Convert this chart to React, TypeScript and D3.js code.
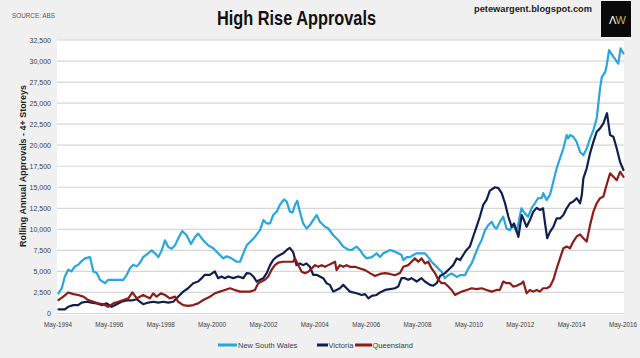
import React from "react";
import * as d3 from "d3";

// [decimal year, rolling annual approvals]
const nsw: [number, number][] = [
  [1994.35,2400],[1994.48,3000],[1994.6,4400],[1994.73,5200],[1994.86,5000],[1994.99,5600],[1995.12,5800],[1995.25,6200],[1995.38,6550],[1995.58,6700],[1995.71,5000],[1995.84,4800],[1995.97,4000],[1996.16,3600],[1996.29,4000],[1996.49,4000],[1996.68,4000],[1996.88,4000],[1997.01,4600],[1997.14,5400],[1997.26,5800],[1997.4,5600],[1997.52,6000],[1997.65,6700],[1997.78,7000],[1997.98,7500],[1998.11,7150],[1998.24,6700],[1998.37,7500],[1998.5,8700],[1998.63,7900],[1998.76,7700],[1998.89,8100],[1999.01,8900],[1999.17,9800],[1999.34,9300],[1999.51,8250],[1999.66,9050],[1999.79,9500],[1999.99,8700],[2000.18,8100],[2000.38,7750],[2000.57,7150],[2000.77,6550],[2000.9,6800],[2001.09,6550],[2001.29,6150],[2001.42,6150],[2001.55,7150],[2001.68,8100],[2001.81,8500],[2002.0,9100],[2002.2,9900],[2002.33,11100],[2002.46,10700],[2002.59,10700],[2002.71,11700],[2002.85,12100],[2002.97,12900],[2003.13,13550],[2003.24,13300],[2003.36,12100],[2003.47,12000],[2003.56,12900],[2003.65,13400],[2003.75,12100],[2003.88,10700],[2004.01,10100],[2004.14,10500],[2004.27,11100],[2004.4,11700],[2004.53,10900],[2004.73,10300],[2004.86,10100],[2005.05,9300],[2005.25,8700],[2005.44,7950],[2005.63,7600],[2005.77,7550],[2005.96,7950],[2006.09,7550],[2006.22,6950],[2006.35,6550],[2006.55,6700],[2006.74,7150],[2006.87,6700],[2007.0,7150],[2007.13,7350],[2007.26,7550],[2007.45,7350],[2007.58,7150],[2007.71,6950],[2007.78,6350],[2007.91,6700],[2008.04,6700],[2008.17,6950],[2008.3,7150],[2008.49,7150],[2008.62,7150],[2008.75,6700],[2008.88,6150],[2009.01,5750],[2009.14,5350],[2009.27,4950],[2009.4,4200],[2009.53,4550],[2009.66,4750],[2009.86,4350],[2009.99,4550],[2010.18,4550],[2010.31,5350],[2010.44,5950],[2010.57,6950],[2010.7,7950],[2010.83,8750],[2010.96,9900],[2011.09,10500],[2011.22,10900],[2011.32,10300],[2011.41,10100],[2011.54,10900],[2011.67,11500],[2011.8,10100],[2011.93,9900],[2012.06,10500],[2012.19,9700],[2012.38,12500],[2012.51,11900],[2012.64,11500],[2012.77,12500],[2012.9,13100],[2013.03,13700],[2013.16,13700],[2013.23,14300],[2013.36,13500],[2013.49,14100],[2013.62,15650],[2013.75,17250],[2013.88,18450],[2014.01,19600],[2014.14,21200],[2014.2,20800],[2014.27,21200],[2014.4,21000],[2014.53,20400],[2014.66,19200],[2014.79,18800],[2014.92,19600],[2015.05,20800],[2015.18,21800],[2015.31,23200],[2015.44,26750],[2015.51,28100],[2015.64,28700],[2015.7,29500],[2015.79,31300],[2015.96,30500],[2016.15,29700],[2016.24,31500],[2016.35,30900],
];

const vic: [number, number][] = [
  [1994.35,500],[1994.6,500],[1994.73,800],[1994.93,1000],[1995.12,1000],[1995.25,1300],[1995.45,1400],[1995.64,1300],[1995.84,1200],[1996.03,1000],[1996.23,1200],[1996.42,800],[1996.62,1100],[1996.81,1400],[1997.01,1550],[1997.2,1550],[1997.4,1700],[1997.52,1400],[1997.65,1100],[1997.85,1300],[1998.04,1400],[1998.24,1300],[1998.43,1400],[1998.63,1300],[1998.82,1400],[1999.01,2000],[1999.21,2600],[1999.4,3000],[1999.6,3600],[1999.79,3800],[1999.93,4200],[2000.05,4600],[2000.25,4600],[2000.44,5000],[2000.57,4200],[2000.7,4400],[2000.83,4200],[2000.96,4400],[2001.16,4200],[2001.35,4400],[2001.55,4200],[2001.68,4800],[2001.81,4750],[2001.94,4400],[2002.07,3800],[2002.2,4000],[2002.33,4200],[2002.46,4800],[2002.59,5750],[2002.71,6350],[2002.85,6750],[2002.97,6950],[2003.1,7150],[2003.24,7550],[2003.36,7800],[2003.49,7300],[2003.62,5750],[2003.75,5950],[2003.88,5750],[2004.01,5950],[2004.14,5550],[2004.27,4600],[2004.4,4600],[2004.53,4400],[2004.66,4200],[2004.79,3600],[2004.92,3400],[2005.05,2600],[2005.18,2800],[2005.31,3000],[2005.44,3400],[2005.57,3000],[2005.7,2600],[2005.96,2400],[2006.16,2200],[2006.29,2300],[2006.42,1800],[2006.55,2100],[2006.74,2200],[2006.87,2500],[2007.07,2800],[2007.26,2900],[2007.45,3000],[2007.58,3200],[2007.71,4200],[2007.84,4200],[2007.97,4000],[2008.1,4200],[2008.3,3800],[2008.49,4200],[2008.62,3800],[2008.82,3400],[2008.95,3300],[2009.08,3600],[2009.21,4450],[2009.4,4800],[2009.59,5350],[2009.72,5750],[2009.86,6550],[2009.99,6350],[2010.11,6950],[2010.24,7550],[2010.37,7950],[2010.5,9150],[2010.63,10300],[2010.76,11500],[2010.89,12900],[2011.02,13500],[2011.15,14600],[2011.35,15000],[2011.48,14900],[2011.61,14300],[2011.74,13100],[2011.87,11500],[2012.0,10300],[2012.09,10700],[2012.2,9700],[2012.26,9100],[2012.39,11700],[2012.45,11300],[2012.58,10300],[2012.71,11100],[2012.84,12100],[2012.97,12550],[2013.1,12300],[2013.22,12500],[2013.29,10900],[2013.38,8950],[2013.49,9700],[2013.62,10300],[2013.75,11300],[2013.88,11300],[2014.01,11700],[2014.14,12500],[2014.27,13100],[2014.4,13300],[2014.53,13700],[2014.66,13100],[2014.73,14100],[2014.79,16050],[2014.92,17250],[2015.05,19050],[2015.18,20400],[2015.31,21600],[2015.44,22000],[2015.57,22600],[2015.71,23800],[2015.83,21200],[2015.96,21000],[2016.09,19600],[2016.22,18000],[2016.35,17050],
];

const qld: [number, number][] = [
  [1994.35,1600],[1994.54,2000],[1994.73,2500],[1994.93,2300],[1995.12,2200],[1995.32,2000],[1995.51,1600],[1995.71,1400],[1995.9,1200],[1996.1,1100],[1996.29,800],[1996.49,1200],[1996.68,1400],[1996.88,1600],[1997.07,1800],[1997.23,2500],[1997.4,1800],[1997.52,2000],[1997.65,2200],[1997.78,2000],[1997.91,1800],[1998.04,2400],[1998.17,2000],[1998.34,2400],[1998.5,2200],[1998.69,1800],[1998.89,2000],[1999.01,1400],[1999.21,1000],[1999.4,900],[1999.6,1000],[1999.79,1200],[1999.99,1600],[2000.25,2000],[2000.44,2400],[2000.64,2600],[2000.83,2800],[2001.03,3000],[2001.22,2800],[2001.42,2600],[2001.61,2600],[2001.81,2600],[2002.0,2800],[2002.13,3600],[2002.26,3800],[2002.39,4000],[2002.52,4400],[2002.65,5200],[2002.78,5750],[2002.91,6050],[2003.1,6150],[2003.3,6150],[2003.49,6150],[2003.56,6550],[2003.69,5750],[2003.82,4950],[2003.95,4800],[2004.08,4950],[2004.21,5350],[2004.34,5750],[2004.47,5550],[2004.6,5750],[2004.73,5550],[2004.86,5750],[2004.99,5950],[2005.12,6150],[2005.18,5150],[2005.31,5750],[2005.44,5550],[2005.57,5750],[2005.7,5550],[2005.9,5550],[2006.09,5350],[2006.29,5150],[2006.48,4800],[2006.68,4450],[2006.87,4700],[2007.07,4800],[2007.26,4700],[2007.45,4550],[2007.65,4800],[2007.78,5550],[2007.97,5750],[2008.1,6150],[2008.23,6550],[2008.36,6150],[2008.49,6550],[2008.62,5950],[2008.75,6150],[2008.88,5350],[2009.01,4800],[2009.14,4000],[2009.27,3600],[2009.4,3600],[2009.53,3200],[2009.66,2800],[2009.79,2200],[2009.92,2400],[2010.05,2600],[2010.25,2800],[2010.44,3000],[2010.63,2900],[2010.83,3000],[2011.02,2800],[2011.22,2600],[2011.41,2800],[2011.54,2800],[2011.67,3800],[2011.8,3600],[2011.93,3600],[2012.06,3200],[2012.19,3300],[2012.39,3600],[2012.45,3800],[2012.58,2400],[2012.71,2800],[2012.84,2600],[2012.97,2800],[2013.1,2600],[2013.22,3000],[2013.36,3000],[2013.49,3200],[2013.62,4000],[2013.75,5350],[2013.88,6550],[2014.01,7750],[2014.14,7950],[2014.27,7750],[2014.4,8550],[2014.53,9150],[2014.66,9400],[2014.79,8950],[2014.92,8550],[2015.05,10500],[2015.18,12100],[2015.31,13100],[2015.44,13700],[2015.57,13900],[2015.71,15450],[2015.83,16650],[2015.96,16250],[2016.09,15850],[2016.22,16850],[2016.35,16250],
];

const seriesNames = ["New South Wales", "Victoria", "Queensland"];
const seriesColors = ["#29a6dd", "#0f1f4f", "#8c1c17"];
const seriesData = [nsw, vic, qld];

const yTicks = [0,2500,5000,7500,10000,12500,15000,17500,20000,22500,25000,27500,30000,32500];
const xTickYears = [1994,1996,1998,2000,2002,2004,2006,2008,2010,2012,2014,2016];

const W = 640, H = 358;
const plot = { left: 58, right: 623, top: 40, bottom: 313.5 };

export default function App() {
  const x = d3.scaleLinear().domain([1994 + 4 / 12, 2016 + 4 / 12]).range([plot.left, plot.right]);
  const y = d3.scaleLinear().domain([0, 32500]).range([plot.bottom, plot.top]);
  const line = d3.line<[number, number]>().x(d => x(d[0])).y(d => y(d[1]));
  const fmt = d3.format(",");
  const font = "'Liberation Sans', Arial, sans-serif";

  const legendItems = [
    { x0: 218, x1: 237, tx: 238 },
    { x0: 317, x1: 328, tx: 328.5 },
    { x0: 355, x1: 372, tx: 372.5 },
  ];

  return (
    <svg width={W} height={H} style={{ position: "absolute", left: 0, top: 0 }} fontFamily={font}>
      <rect x={0} y={0} width={W} height={H} fill="#f0f0f0" />
      <rect x={57} y={plot.top} width={567} height={315 - plot.top} fill="#ffffff" />
      {yTicks.map(t => (
        <g key={t}>
          <line x1={57} x2={624} y1={y(t)} y2={y(t)} stroke="#d6d6d6" strokeWidth={1.2} />
          <text x={51} y={y(t) + 2.5} textAnchor="end" fontSize={7} fill="#404040">{fmt(t)}</text>
        </g>
      ))}
      {xTickYears.map(yr => (
        <text key={yr} x={x(yr + 4 / 12)} y={327} textAnchor="middle" fontSize={7} fill="#404040"
          textLength={28} lengthAdjust="spacingAndGlyphs">{`May-${yr}`}</text>
      ))}
      {seriesData.map((s, i) => (
        <path key={i} d={line(s) || ""} fill="none" stroke={seriesColors[i]} strokeWidth={2.2}
          strokeLinejoin="round" strokeLinecap="round" />
      ))}
      {legendItems.map((l, i) => (
        <g key={i}>
          <line x1={l.x0} x2={l.x1} y1={345} y2={345} stroke={seriesColors[i]} strokeWidth={3} />
          <text x={l.tx} y={347.5} fontSize={7.5} fill="#404040">{seriesNames[i]}</text>
        </g>
      ))}
      <text x={12} y={18} fontSize={7} fill="#555" textLength={43} lengthAdjust="spacingAndGlyphs">SOURCE: ABS</text>
      <text x={217} y={25} fontSize={21} fontWeight="bold" fill="#111" textLength={159} lengthAdjust="spacingAndGlyphs">High Rise Approvals</text>
      <text x={474} y={12} fontSize={9} fontWeight="bold" fill="#222" textLength={118} lengthAdjust="spacingAndGlyphs">petewargent.blogspot.com</text>
      <rect x={601} y={1} width={30} height={36} fill="#0a0a0a" />
      <text x={609} y={24} fontSize={11} fill="#ffffff">Λ</text>
      <text x={615.5} y={24} fontSize={11} fill="#c9b25a">W</text>
      <text transform="translate(26,166) rotate(-90)" textAnchor="middle" fontSize={8.5} fontWeight="bold" fill="#222"
        textLength={162} lengthAdjust="spacingAndGlyphs">Rolling Annual Approvals - 4+ Storeys</text>
    </svg>
  );
}
